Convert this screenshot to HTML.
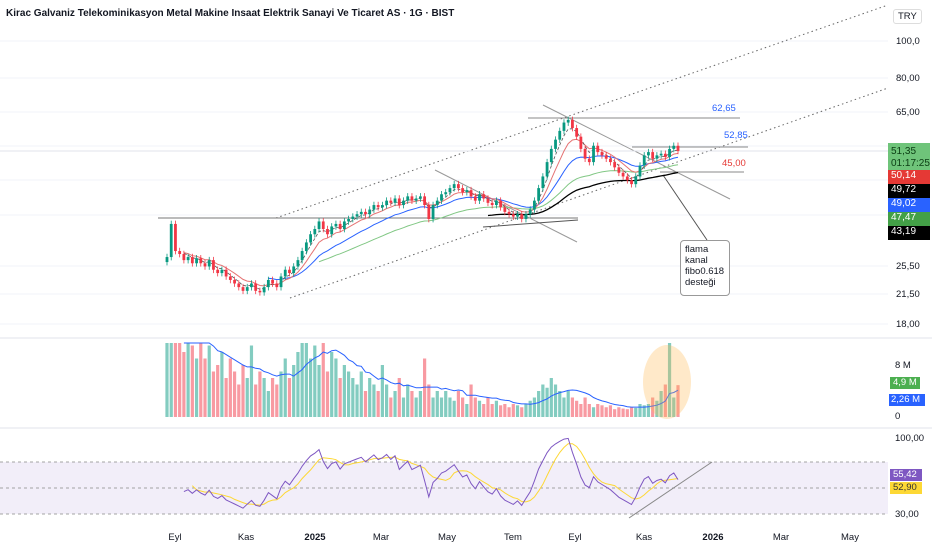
<!DOCTYPE html>
<html><head><meta charset="utf-8"><style>
body{margin:0;background:#fff;font-family:"Liberation Sans",sans-serif;}
#wrap{position:relative;width:932px;height:550px;overflow:hidden;}
.title{position:absolute;left:6px;top:8px;font-size:10px;font-weight:bold;color:#131722;}
.ax{position:absolute;font-size:9.5px;color:#131722;}
.box{position:absolute;left:888px;width:42px;font-size:10px;color:#fff;padding-left:3px;box-sizing:border-box;}
</style></head><body>
<div id="wrap">
<svg id="svg" width="932" height="550" style="position:absolute;left:0;top:0"></svg>
<div class="title">Kirac Galvaniz Telekominikasyon Metal Makine Insaat Elektrik Sanayi Ve Ticaret AS · 1G · BIST</div>
<div class="ax" style="left:893px;top:9px;border:1px solid #ddd;padding:1px 4px;border-radius:3px">TRY</div>
<div class="ax" style="left:896px;top:36px">100,0</div>
<div class="ax" style="left:896px;top:73px">80,00</div>
<div class="ax" style="left:896px;top:107px">65,00</div>
<div class="ax" style="left:896px;top:261px">25,50</div>
<div class="ax" style="left:896px;top:289px">21,50</div>
<div class="ax" style="left:896px;top:319px">18,00</div>
<div class="box" style="top:143px;height:40px;background:#6fc47a;color:#0b3d13;line-height:12px;padding-top:3px">51,35<br>01:17:25</div>
<div class="box" style="top:170px;height:14px;background:#e53935">50,14</div>
<div class="box" style="top:184px;height:14px;background:#000">49,72</div>
<div class="box" style="top:198px;height:14px;background:#2962ff">49,02</div>
<div class="box" style="top:212px;height:14px;background:#43a047">47,47</div>
<div class="box" style="top:226px;height:14px;background:#000">43,19</div>
<div class="ax" style="left:895px;top:360px">8 M</div>
<div class="box" style="top:377px;height:12px;width:30px;left:890px;background:#4caf50;font-size:9.5px">4,9 M</div>
<div class="box" style="top:394px;height:12px;width:36px;left:889px;background:#2962ff;font-size:9.5px;padding-left:2px">2,26 M</div>
<div class="ax" style="left:895px;top:411px">0</div>
<div class="ax" style="left:895px;top:433px">100,00</div>
<div class="box" style="top:469px;height:12px;width:32px;left:890px;background:#7e57c2;font-size:9.5px">55,42</div>
<div class="box" style="top:482px;height:12px;width:32px;left:890px;background:#fdd835;color:#333;font-size:9.5px">52,90</div>
<div class="ax" style="left:895px;top:509px">30,00</div>
<div style="position:absolute;left:680px;top:240px;width:50px;height:56px;border:1px solid #999;border-radius:4px;background:#fff;font-size:9.5px;line-height:11px;padding:3px 4px;box-sizing:border-box;color:#131722">flama<br>kanal<br>fibo0.618<br>desteği</div>
<div class="ax" style="left:712px;top:103px;color:#2962ff">62,65</div>
<div class="ax" style="left:724px;top:130px;color:#2962ff">52,85</div>
<div class="ax" style="left:722px;top:158px;color:#e53935">45,00</div>
</div>
<script>
const closes=[27,33,28,27.5,26.5,27,26,26.8,
26,25.5,26.5,25,24.5,25,24,23.5,23,22.5,22,22.5,23,22,21.8,22.5,
23.5,23,22.5,24,25,24.5,25.5,26.5,
28,29.5,31,32,33.5,32,31,32.5,33,32,33.5,34,
34.5,35,35.5,35,36,37,36.5,37,38,37.5,38.5,37,38,39,38,
38.5,39,37,34,37,38,39.5,
40,41,42,41,40,40.5,39,38,39.5,38.5,37.5,
37,38,36.5,35.5,35,34.5,35,34,
35,36,38,41,44,48,52,55,58,61,
62,59,56,52,49,48,53,51,50,
49,48,46.5,45,44,43,42,44,47,
50,51,49,50,50.5,49.5,52,53,51.35];
const volumes=[14,20,15,12,10,13,11,9,
12,9,11,7,8,10,6,9,7,5,8,6,11,5,7,6,
4,6,5,7,9,6,8,10,
12,14,9,11,8,13,7,10,9,6,8,7,
6,5,7,4,6,5,4,8,5,3,4,6,3,5,4,
3,4,9,5,3,4,3,
4,3,2.5,4,3,2,5,3,2.5,2,3,
2,2.5,1.8,2,1.5,2,1.8,1.5,
2,2.5,3,4,5,4.5,6,5,4,3,
4,3,2.5,2,3,2,1.5,2,1.8,
1.5,1.8,1.2,1.5,1.3,1.2,1.5,1.4,2,
1.8,2,3,2.5,4,5,13,3,4.9];
const monthLabels=["Eyl","Kas","2025","Mar","May","Tem","Eyl","Kas","2026","Mar","May"];
const monthX=[175,246,315,381,447,513,575,644,713,781,850];
const NS="http://www.w3.org/2000/svg";
const svg=document.getElementById('svg');
function mk(t,a){const e=document.createElementNS(NS,t);for(const k in a)e.setAttribute(k,a[k]);svg.appendChild(e);return e;}
const x0=167,x1=678,n=closes.length;
const xS=i=>x0+i*(x1-x0)/(n-1);
const yP=p=>41+165*(Math.log(100)-Math.log(p));
const yV=v=>Math.max(343,417-6.5*v);
const yR=r=>488-1.3*(r-50);
[41,78,112,146,180,215,266,294,324].forEach(y=>{const g=mk('line',{x1:0,x2:888,y1:y,y2:y,stroke:'#f0f3fa'});});
[338,428].forEach(y=>{const g=mk('line',{x1:0,x2:932,y1:y,y2:y,stroke:'#e0e3eb'});});
const band=mk('rect',{x:0,y:yR(70),width:888,height:yR(30)-yR(70),fill:'rgba(126,87,194,0.1)'});

[70,50,30].forEach(v=>{const l=mk('line',{x1:0,x2:888,y1:yR(v),y2:yR(v),stroke:'#888','stroke-dasharray':'3,3','stroke-width':0.8});});
function ln(a,b,c,d,st,dash,w,name){const l=mk('line',{x1:a,y1:b,x2:c,y2:d,stroke:st,'stroke-width':w||1});if(dash)l.setAttribute('stroke-dasharray',dash);}
ln(276,218,888,5,'#666','1.5,3',1,'channel-upper');
ln(290,298,888,88,'#666','1.5,3',1,'channel-lower');
ln(158,218,578,218,'#777',null,1,'support-line');
ln(435,170,577,242,'#999',null,1,'triangle-upper');
ln(483,227,578,220,'#555',null,1,'triangle-lower');
ln(543,105,730,199,'#999',null,1,'flag-upper');
ln(528,118,740,118,'#888',null,1,'fib-6265-line');
ln(632,147,748,147,'#888',null,1,'fib-5285-line');
ln(660,172,744,172,'#888',null,1,'fib-45-line');
ln(663,175,707,240,'#555',null,1,'callout-pointer');
ln(629,518,712,462,'#888',null,1,'rsi-trendline');
ln(0,151,888,151,'#e0e3eb',null,1,'last-price-line');
function ema(arr,p){const k=2/(p+1);let o=[],v=arr[0];arr.forEach((c,i)=>{v=i?c*k+v*(1-k):c;o.push(v);});return o;}
function path(vals,start,fy,st,w,dash,name){let d='';vals.forEach((v,i)=>{if(i<start)return;d+=(d?'L':'M')+xS(i).toFixed(1)+','+fy(v).toFixed(1);});const p=mk('path',{d:d,fill:'none',stroke:st,'stroke-width':w});if(dash)p.setAttribute('stroke-dasharray',dash);}
path(ema(closes,60),76,yP,'#000',1.3,null,'ema-200');
path(ema(closes,40),36,yP,'#81c784',1,null,'ema-100');
path(ema(closes,18),24,yP,'#2962ff',1,null,'ema-50');
path(ema(closes,8),4,yP,'#e57373',1,null,'ema-20');
path(ema(closes,4),4,yP,'#555',0.8,'3,2','ema-short');
closes.forEach((c,i)=>{const o=i?closes[i-1]:c*0.97;const up=c>=o;const col=up?'#089981':'#f23645';const x=xS(i);
const hi=Math.max(o,c)*1.02,lo=Math.min(o,c)*0.98;
const w=mk('line',{x1:x,x2:x,y1:yP(hi),y2:yP(lo),stroke:col,'stroke-width':0.8});
const b=mk('rect',{x:x-1.4,y:Math.min(yP(o),yP(c)),width:2.8,height:Math.max(1,Math.abs(yP(o)-yP(c))),fill:col});
const v=mk('rect',{x:x-1.6,y:yV(volumes[i]),width:3.2,height:417-yV(volumes[i]),fill:up?'rgba(8,153,129,0.5)':'rgba(242,54,69,0.5)'});});
let vma=volumes.map((v,i)=>{const s=volumes.slice(Math.max(0,i-9),i+1);return s.reduce((a,b)=>a+b,0)/s.length;});
path(vma,4,yV,'#2962ff',1,null,'volume-ma');
const el=mk('ellipse',{cx:667,cy:382,rx:24,ry:37,fill:'rgba(255,183,77,0.3)'});
const P=12;let ag=0.5,al=0.5,rsi=[];
closes.forEach((c,i)=>{if(!i){rsi.push(50);return;}const d=c-closes[i-1];const g=Math.max(d,0),l=Math.max(-d,0);ag=(ag*(P-1)+g)/P;al=(al*(P-1)+l)/P;rsi.push(al===0?100:100-100/(1+ag/al));});
let rma=rsi.map((v,i)=>{const s=rsi.slice(Math.max(0,i-5),i+1);return s.reduce((a,b)=>a+b,0)/s.length;});
path(rma,6,yR,'#fdd835',1,null,'rsi-ma');
path(rsi,4,yR,'#7e57c2',1,null,'rsi-line');
monthLabels.forEach((m,i)=>{const t=mk('text',{x:monthX[i],y:540,'font-size':9.5,'text-anchor':'middle',fill:'#131722','font-family':'Liberation Sans, sans-serif','font-weight':m.length===4?'bold':'normal'});t.textContent=m;});
</script>
</body></html>
